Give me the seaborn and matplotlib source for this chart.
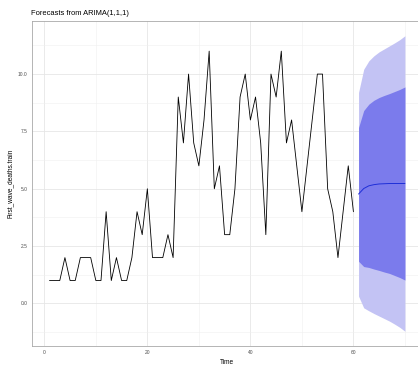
import numpy as np
import pandas as pd
import matplotlib
matplotlib.use("Agg")
import matplotlib.pyplot as plt
import seaborn as sns

# Observed weekly deaths (training series)
time_obs = list(range(1, 61))
deaths = [1, 1, 1, 2, 1, 1, 2, 2, 2, 1,
          1, 4, 1, 2, 1, 1, 2, 4, 3, 5,
          2, 2, 2, 3, 2, 9, 7, 10, 7, 6,
          8, 11, 5, 6, 3, 3, 5, 9, 10, 8,
          9, 7, 3, 10, 9, 11, 7, 8, 6, 4,
          6, 8, 10, 10, 5, 4, 2, 4, 6, 4]

# ARIMA(1,1,1) forecast, horizon 10, with 80% and 95% intervals
time_fc = list(range(61, 71))
fc_mean = [4.77, 5.01, 5.13, 5.18, 5.21, 5.22, 5.23, 5.23, 5.23, 5.23]
lo80 = [1.84, 1.61, 1.57, 1.50, 1.44, 1.37, 1.31, 1.22, 1.13, 1.02]
hi80 = [7.67, 8.41, 8.69, 8.86, 8.98, 9.07, 9.15, 9.24, 9.33, 9.44]
lo95 = [0.32, -0.19, -0.32, -0.44, -0.55, -0.66, -0.77, -0.90, -1.04, -1.21]
hi95 = [9.20, 10.21, 10.58, 10.80, 10.97, 11.10, 11.23, 11.36, 11.50, 11.67]

x_ticks = [0, 20, 40, 60]
y_ticks = [0.0, 2.5, 5.0, 7.5, 10.0]

obs = pd.DataFrame({"Time": time_obs, "deaths": deaths})
fc = pd.DataFrame({"Time": time_fc, "mean": fc_mean,
                   "lo80": lo80, "hi80": hi80, "lo95": lo95, "hi95": hi95})

sns.set_theme(style="whitegrid")
plt.rcParams["font.family"] = ["Liberation Sans", "DejaVu Sans"]

fig = plt.figure(figsize=(4.18, 3.65), dpi=100)
ax = fig.add_axes([31.7 / 418, 19 / 365, 391 / 418, 325 / 365])

# prediction intervals
ax.fill_between(fc["Time"], fc["lo95"], fc["hi95"], color="#C3C3F4", lw=0, zorder=2)
ax.fill_between(fc["Time"], fc["lo80"], fc["hi80"], color="#7B7BEC", lw=0, zorder=3)

sns.lineplot(data=obs, x="Time", y="deaths", ax=ax, color="black", lw=0.6, zorder=4)
sns.lineplot(data=fc, x="Time", y="mean", ax=ax, color="#1F2FD8", lw=0.7, zorder=5)

# limits with 5% padding on both axes
all_t = time_obs + time_fc
xmin, xmax = min(all_t), max(all_t)
ymin = min(min(deaths), min(lo95))
ymax = max(max(deaths), max(hi95))
xp = (xmax - xmin) * 0.05
yp = (ymax - ymin) * 0.05
ax.set_xlim(xmin - xp, xmax + xp)
ax.set_ylim(ymin - yp, ymax + yp)

ax.set_xticks(x_ticks)
ax.set_xticks([10, 30, 50, 70], minor=True)
ax.set_yticks(y_ticks)
ax.set_yticks([-1.25, 1.25, 3.75, 6.25, 8.75, 11.25], minor=True)
ax.set_yticklabels([f"{v:.1f}" for v in y_ticks])
ax.set_xticklabels([str(v) for v in x_ticks])

ax.grid(True, which="major", color="#E6E6E6", lw=0.6)
ax.grid(True, which="minor", color="#EFEFEF", lw=0.4)
ax.set_axisbelow(True)
ax.set_facecolor("white")

for side in ["left", "bottom", "top", "right"]:
    ax.spines[side].set_color("#A8A8A8")
    ax.spines[side].set_linewidth(0.6)

ax.tick_params(axis="both", which="major", length=2, width=0.5, color="#A8A8A8",
               labelsize=3.5, labelcolor="#4D4D4D", pad=1.2)
ax.tick_params(axis="both", which="minor", length=0)

ax.set_xlabel("Time", fontsize=4.7, color="black")
ax.set_ylabel("First_wave_deaths.train", fontsize=4.7, color="black")
ax.xaxis.set_label_coords(0.5, -0.041)
ax.yaxis.set_label_coords(-0.047, 0.5)

fig.text(31 / 418, 1 - 13.3 / 365, "Forecasts from ARIMA(1,1,1)",
         fontsize=5.4, ha="left", va="center", color="black")

fig.savefig("out.png", dpi=100)
